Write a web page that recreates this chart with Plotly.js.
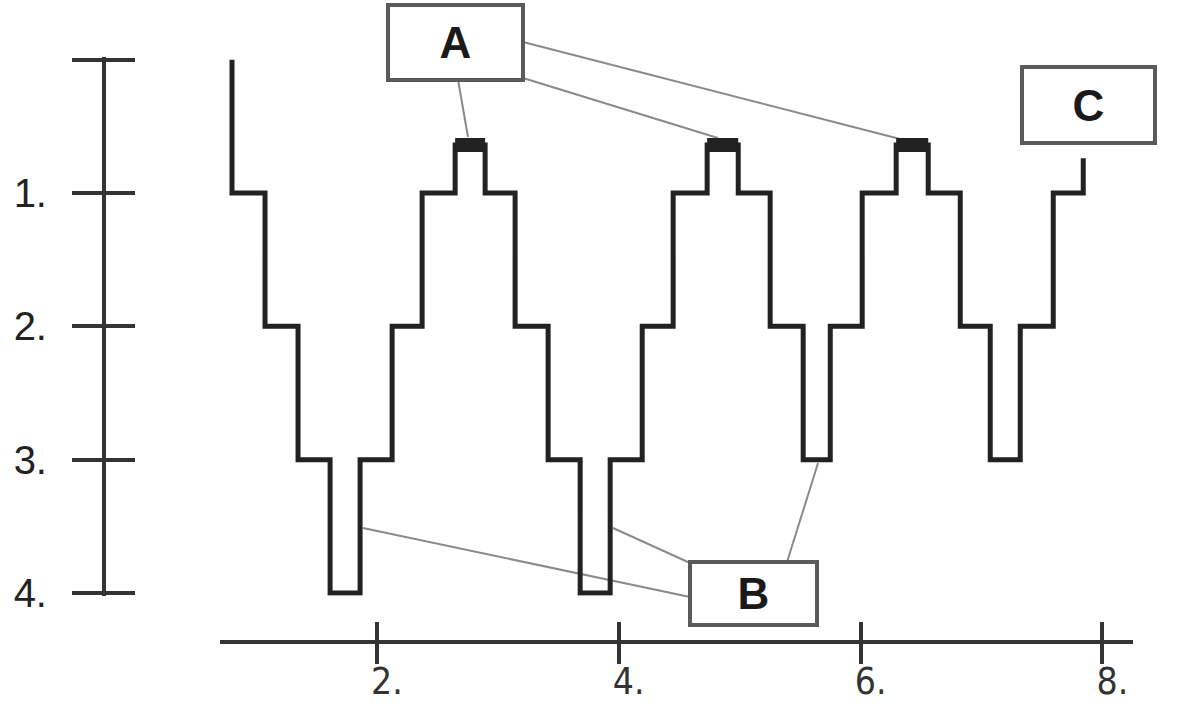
<!DOCTYPE html>
<html>
<head>
<meta charset="utf-8">
<script src="https://cdn.plot.ly/plotly-3.0.1.min.js"></script>
<style>
html,body{margin:0;padding:0;background:#fff;}
#chart{width:1183px;height:715px;}
#chart .xtick text{font-stretch:condensed !important;}
</style>
</head>
<body>
<div id="chart"></div>
<script>
// ---- data ----
// transition times (x) and the level reached on the segment that ends at each time (vh steps)
const stepTimes  = [0.802, 1.075, 1.348, 1.613, 1.861, 2.126, 2.374, 2.647, 2.895, 3.143,
                    3.416, 3.681, 3.929, 4.194, 4.450, 4.731, 4.988, 5.252, 5.525, 5.749,
                    6.013, 6.294, 6.559, 6.824, 7.072, 7.320, 7.593, 7.841, 7.841];
const stepLevels = [0, 1, 2, 3, 4, 3, 2, 1, 0.64, 1,
                    2, 3, 4, 3, 2, 1, 0.64, 1, 2, 3,
                    2, 1, 0.64, 1, 2, 3, 2, 1, 0.74];
// thick marked peaks (start, end, level)
const peakStarts = [2.647, 4.731, 6.294];
const peakEnds   = [2.895, 4.988, 6.559];
const peakLevel  = 0.64;
// axes
const yTickVals = [0, 1, 2, 3, 4];
const yTickText = ['', '1.', '2.', '3.', '4.'];
const xTickVals = [2, 4, 6, 8];
const xTickText = ['2.', '4.', '6.', '8.'];
// labels (boxes)
const labelText = ['A', 'B', 'C'];

// ---- placement (paper fractions) ----
const labelPos = [[0.3850, 0.9406], [0.6369, 0.1699], [0.9201, 0.8531]];
const labelSize = [[131, 71], [123, 59], [129, 72]];
const leaders = [
  [0.3872, 0.8881, 0.3956, 0.8084],
  [0.4421, 0.8909, 0.6069, 0.8070],
  [0.4421, 0.9413, 0.7608, 0.8056],
  [0.3068, 0.2615, 0.5833, 0.1650],
  [0.5182, 0.2615, 0.5833, 0.2126],
  [0.6653, 0.2140, 0.6915, 0.3524]
];

const ink = '#222222';
const traces = [{
  x: stepTimes, y: stepLevels, type: 'scatter', mode: 'lines',
  line: {shape: 'vh', color: ink, width: 5}, cliponaxis: false, hoverinfo: 'skip'
}];
for (let i = 0; i < peakStarts.length; i++) {
  traces.push({
    x: [peakStarts[i], peakEnds[i]], y: [peakLevel, peakLevel], type: 'scatter', mode: 'lines',
    line: {color: ink, width: 14}, cliponaxis: false, hoverinfo: 'skip'
  });
}
traces.push({x: [], y: [], xaxis: 'x2', yaxis: 'y2', type: 'scatter', mode: 'lines', hoverinfo: 'skip'});

const shapes = leaders.map(l => ({
  type: 'line', xref: 'paper', yref: 'paper', x0: l[0], y0: l[1], x1: l[2], y1: l[3],
  line: {color: '#8a8a8a', width: 2}, layer: 'below'
}));

const annotations = labelText.map((t, i) => ({
  text: '<b>' + t + '</b>', x: labelPos[i][0], y: labelPos[i][1], xref: 'paper', yref: 'paper',
  xanchor: 'center', yanchor: 'middle',
  showarrow: false, width: labelSize[i][0], height: labelSize[i][1], borderpad: 0,
  bordercolor: '#5a5a5a', borderwidth: 4, bgcolor: '#ffffff',
  font: {family: 'Liberation Sans, Arial, sans-serif', size: 44, color: '#1a1a1a'}
}));

const xRange = [0.703, 8.255];
const yRange = [4.02, -0.02];
const layout = {
  width: 1183, height: 715,
  margin: {l: 0, r: 0, t: 0, b: 0},
  paper_bgcolor: '#ffffff', plot_bgcolor: 'rgba(0,0,0,0)',
  showlegend: false,
  xaxis: {
    domain: [0.186, 0.958], range: xRange, anchor: 'free', position: 0.1021,
    showline: true, linewidth: 4, linecolor: '#333', showgrid: false, zeroline: false,
    ticks: 'outside', ticklen: 20, tickwidth: 4, tickcolor: '#333',
    tickvals: xTickVals, ticktext: xTickText, ticklabelshift: 10, ticklabelstandoff: -14,
    tickfont: {family: 'DejaVu Sans, sans-serif', size: 37, color: '#333'}
  },
  xaxis2: {
    overlaying: 'x', range: xRange, anchor: 'free', position: 0.1021,
    showline: false, showgrid: false, zeroline: false,
    ticks: 'inside', ticklen: 20, tickwidth: 4, tickcolor: '#333',
    tickvals: xTickVals, showticklabels: false
  },
  yaxis: {
    domain: [0.1669, 0.9203], range: yRange, anchor: 'free', position: 0.0879,
    showline: true, linewidth: 4, linecolor: '#333', showgrid: false, zeroline: false,
    ticks: 'outside', ticklen: 30, tickwidth: 4, tickcolor: '#333',
    tickvals: yTickVals, ticktext: yTickText, ticklabelstandoff: 17,
    tickfont: {family: 'Liberation Sans, Arial, sans-serif', size: 40, color: '#222', weight: 500}
  },
  yaxis2: {
    overlaying: 'y', range: yRange, anchor: 'free', position: 0.0879,
    showline: false, showgrid: false, zeroline: false,
    ticks: 'inside', ticklen: 30, tickwidth: 4, tickcolor: '#333',
    tickvals: yTickVals, showticklabels: false
  },
  shapes: shapes,
  annotations: annotations
};
Plotly.newPlot('chart', traces, layout, {staticPlot: true, displayModeBar: false});
</script>
</body>
</html>
